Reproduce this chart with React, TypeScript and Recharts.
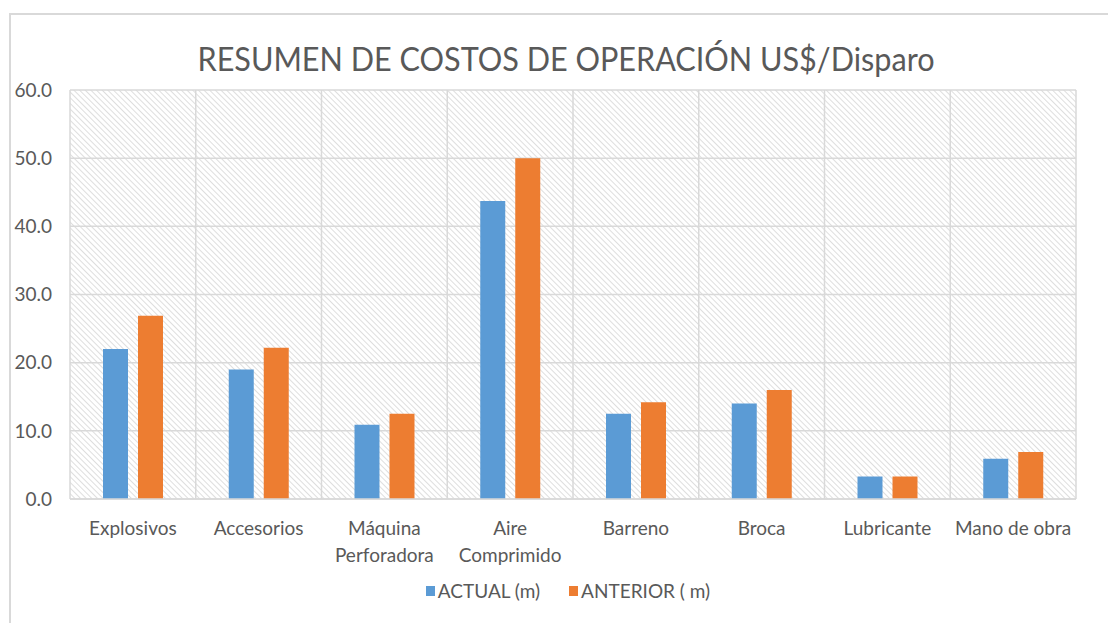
import { BarChart, Bar, XAxis, YAxis, CartesianGrid, Legend } from 'recharts';

const categories = [
    "Explosivos",
    "Accesorios",
    "Máquina\nPerforadora",
    "Aire\nComprimido",
    "Barreno",
    "Broca",
    "Lubricante",
    "Mano de obra",
];
const actual = [22.0, 19.0, 10.9, 43.7, 12.5, 14.0, 3.3, 5.9];
const anterior = [26.9, 22.2, 12.5, 50.0, 14.2, 16.0, 3.3, 6.9];
const yTicks = [0, 10, 20, 30, 40, 50, 60];

const data = categories.map((name, i) => ({ name, actual: actual[i], anterior: anterior[i] }));

const textColor = '#595959';
const font = 'Lato, "Liberation Sans", sans-serif';

// vertical grid lines sit on the category boundaries, not the centers
const boundaryLines = ({ offset }: any) => {
    const band = offset.width / categories.length;
    return categories.map((_, i) => offset.left + i * band).concat(offset.left + offset.width);
};

function CategoryTick(props: any) {
    const { x, y, payload } = props;
    const lines = String(payload.value).split('\n');
    return (
        <text x={x} y={y} textAnchor="middle" fill={textColor} fontSize={19} fontFamily={font}>
            {lines.map((line, i) => (
                <tspan key={i} x={x} dy={i === 0 ? 28 : 27}>{line}</tspan>
            ))}
        </text>
    );
}

function LegendBox(props: any) {
    const { payload } = props;
    return (
        <div style={{ display: 'flex', justifyContent: 'center', gap: 29, fontFamily: font, fontSize: 19, color: textColor, paddingLeft: 60 }}>
            {payload.map((p: any) => (
                <span key={p.value} style={{ display: 'flex', alignItems: 'center' }}>
                    <span style={{ width: 9, height: 10, background: p.color, marginRight: 3, display: 'inline-block' }} />
                    {p.value}
                </span>
            ))}
        </div>
    );
}

export default function App() {
    return (
        <div style={{ position: 'absolute', left: 0, top: 0, width: 1108, height: 623, overflow: 'hidden', background: '#fff' }}>
            {/* chart frame */}
            <div style={{ position: 'absolute', left: 9, top: 13, width: 1120, height: 640, border: '2px solid #d9d9d9' }} />

            {/* title */}
            <svg width={1108} height={90} style={{ position: 'absolute', left: 0, top: 0 }}>
                <text x={566} y={71} textAnchor="middle" fill={textColor} fontSize={33} fontFamily={font}
                    textLength={737} lengthAdjust="spacingAndGlyphs">
                    RESUMEN DE COSTOS DE OPERACIÓN US$/Disparo
                </text>
            </svg>

            <div style={{ position: 'absolute', left: 0, top: 0 }}>
                <BarChart width={1108} height={623} data={data} barSize={25} barGap={10}
                    margin={{ top: 90, right: 32, left: 0, bottom: 21 }}>
                    <defs>
                        <pattern id="hatch" width={4} height={4} patternUnits="userSpaceOnUse" patternTransform="rotate(-45)">
                            <line x1={0} y1={0} x2={0} y2={4} stroke="#d6d6d6" strokeWidth={1.6} />
                        </pattern>
                    </defs>
                    <CartesianGrid stroke="#d9d9d9" strokeWidth={1.5} fill="url(#hatch)" fillOpacity={1}
                        verticalCoordinatesGenerator={boundaryLines} />
                    <XAxis dataKey="name" interval={0} height={80} axisLine={{ stroke: '#d9d9d9', strokeWidth: 1.5 }}
                        tickLine={false} tick={<CategoryTick />} />
                    <YAxis width={70} domain={[0, 60]} ticks={yTicks} axisLine={false} tickLine={false} tickMargin={12}
                        tickFormatter={(v: number) => v.toFixed(1)}
                        tick={{ fill: textColor, fontSize: 19, fontFamily: font }} />
                    <Legend verticalAlign="bottom" content={<LegendBox />} />
                    <Bar dataKey="actual" name="ACTUAL (m)" fill="#5b9bd5" isAnimationActive={false} />
                    <Bar dataKey="anterior" name="ANTERIOR ( m)" fill="#ed7d31" isAnimationActive={false} />
                </BarChart>
            </div>
        </div>
    );
}
